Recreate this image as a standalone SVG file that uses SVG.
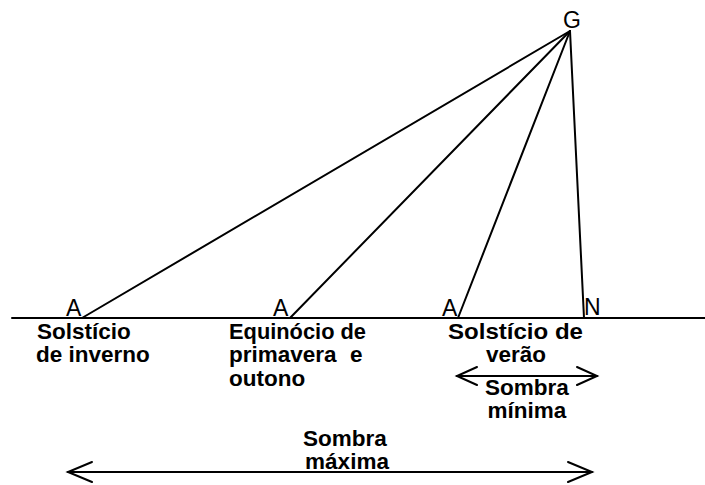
<svg xmlns="http://www.w3.org/2000/svg" width="705" height="485" viewBox="0 0 705 485">
<style>
.ln{stroke:#000;stroke-width:2;fill:none;stroke-linecap:round}
.lbl{font-family:"Liberation Sans",Arial,sans-serif;font-size:23px;fill:#000}
.b{font-family:"Liberation Sans",Arial,sans-serif;font-size:22.5px;font-weight:bold;fill:#000}
</style>
<rect width="705" height="485" fill="#fff"/>
<g id="connectors">
<line class="ln" x1="12" y1="318" x2="705" y2="318"/>
<line class="ln" x1="570" y1="31" x2="82" y2="318"/>
<line class="ln" x1="570" y1="31" x2="290" y2="318"/>
<line class="ln" x1="570" y1="31" x2="458" y2="318"/>
<line class="ln" x1="570" y1="31" x2="584" y2="318"/>
<g id="arrow-min">
<line class="ln" x1="457" y1="376" x2="597" y2="376"/>
<polyline class="ln" points="477,367 457,376 477,385"/>
<polyline class="ln" points="577,367 597,376 577,385"/>
</g>
<g id="arrow-max">
<line class="ln" x1="68" y1="472" x2="592" y2="472"/>
<polyline class="ln" points="92,462 68,472 92,482"/>
<polyline class="ln" points="568,462 592,472 568,482"/>
</g>
</g>
<g id="G"><text class="lbl" x="572" y="28" text-anchor="middle">G</text></g>
<g id="N"><text class="lbl" x="584" y="315">N</text></g>
<g id="A1"><text class="lbl" x="66" y="316">A</text></g>
<g id="A2"><text class="lbl" x="273" y="316">A</text></g>
<g id="A3"><text class="lbl" x="442" y="316">A</text></g>
<g id="label-inverno">
<text class="b" x="37" y="339">Solstício</text>
<text class="b" x="36" y="362">de inverno</text>
</g>
<g id="label-equinocio">
<text class="b" x="229" y="339" textLength="137" lengthAdjust="spacingAndGlyphs">Equinócio de</text>
<text class="b" x="229" y="362">primavera</text>
<text class="b" x="350" y="362">e</text>
<text class="b" x="229" y="386">outono</text>
</g>
<g id="label-verao">
<text class="b" x="448" y="339" textLength="135" lengthAdjust="spacingAndGlyphs">Solstício de</text>
<text class="b" x="516" y="362" text-anchor="middle">verão</text>
</g>
<g id="label-min">
<text class="b" x="527" y="395" text-anchor="middle">Sombra</text>
<text class="b" x="527" y="418" text-anchor="middle">mínima</text>
</g>
<g id="label-max">
<text class="b" x="345" y="446" text-anchor="middle">Sombra</text>
<text class="b" x="347" y="469" text-anchor="middle">máxima</text>
</g>
</svg>
